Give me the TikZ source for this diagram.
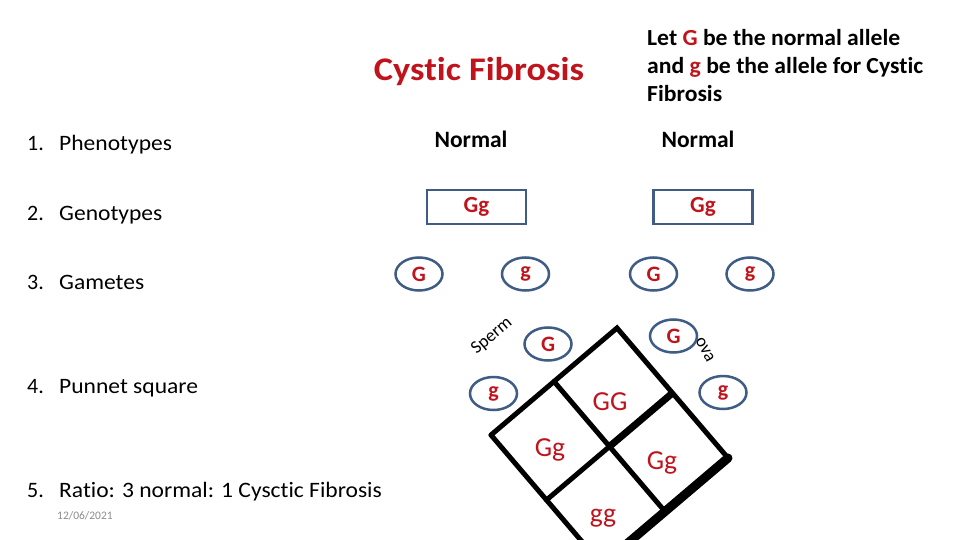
\documentclass[tikz,border=0pt]{standalone}
\usepackage{fontspec}
\setmainfont{Carlito}[Ligatures=NoCommon]
\usetikzlibrary{shapes.geometric,calc}
\definecolor{cfred}{HTML}{C0141C}
\definecolor{cfblue}{HTML}{3E5C84}
\definecolor{dategray}{HTML}{8C8C8C}
\begin{document}
\begin{tikzpicture}[x=1pt,y=-1pt,
  listtxt/.style={anchor=base west,font=\fontsize{22}{26}\selectfont,inner sep=0},
  gam/.style={ellipse,draw=cfblue,line width=2.5pt,minimum width=47,minimum height=33,inner sep=0,text=cfred,font=\fontsize{22}{24}\selectfont\bfseries},
  geno/.style={rectangle,draw=cfblue,line width=2.5pt,minimum width=99,minimum height=34,inner sep=0,text=cfred,font=\fontsize{23}{26}\selectfont\bfseries},
  cell/.style={text=cfred,font=\fontsize{27.5}{30}\selectfont,inner sep=0},
  sq/.style={line width=5pt,line cap=round}]
\useasboundingbox (0,0) rectangle (960,540);
\fill[white] (0,0) rectangle (960,540);
% title
\node[anchor=base,inner sep=0,text=cfred,font=\fontsize{33}{38}\selectfont\bfseries] (title) at (479,81) {\scalebox{1.1}[1]{Cystic Fibrosis}};
\node[anchor=base west,inner sep=0,font=\fontsize{23}{28}\selectfont\bfseries] (note1) at (647,46) {\scalebox{1.03}[1]{Let \textcolor{cfred}{G} be the normal allele}};
\node[anchor=base west,inner sep=0,font=\fontsize{23}{28}\selectfont\bfseries] (note2) at (647,74) {\scalebox{1.03}[1]{and \textcolor{cfred}{g} be the allele for Cystic}};
\node[anchor=base west,inner sep=0,font=\fontsize{23}{28}\selectfont\bfseries] (note3) at (647,102) {\scalebox{1.03}[1]{Fibrosis}};
% list
\node[listtxt] (l1n) at (27,151) {1.};
\node[listtxt] (l1) at (59,151) {\scalebox{1.07}[1]{Phenotypes}};
\node[listtxt] (l2n) at (27,220) {2.};
\node[listtxt] (l2) at (59,220) {\scalebox{1.07}[1]{Genotypes}};
\node[listtxt] (l3n) at (27,289) {3.};
\node[listtxt] (l3) at (59,289) {\scalebox{1.07}[1]{Gametes}};
\node[listtxt] (l4n) at (27,393) {4.};
\node[listtxt] (l4) at (59,393) {\scalebox{1.07}[1]{Punnet square}};
\node[listtxt] (l5n) at (27,497) {5.};
\node[listtxt] (l5) at (59,497) {\scalebox{1.07}[1]{Ratio: 3 normal: 1 Cysctic Fibrosis}};
\node[anchor=base west,inner sep=0,text=dategray,font=\fontsize{11.5}{13}\selectfont] (date) at (57,519) {12/06/2021};
% phenotypes
\node[anchor=base,inner sep=0,font=\fontsize{23.5}{26}\selectfont\bfseries] (n1) at (471,148) {Normal};
\node[anchor=base,inner sep=0,font=\fontsize{23.5}{26}\selectfont\bfseries] (n2) at (698,148) {Normal};
% genotypes
\node[geno] (g1) at (476.5,207) {Gg};
\node[geno] (g2) at (703,207) {Gg};
% gametes
\node[gam] (a1) at (419,274) {G};
\node[gam] (a2) at (525.5,274) {g};
\node[gam] (a3) at (653.5,274) {G};
\node[gam] (a4) at (750,274) {g};
% punnett labels
\node[font=\fontsize{18}{20}\selectfont,rotate=40,inner sep=0] (sperm) at (492,336) {Sperm};
\node[font=\fontsize{18}{20}\selectfont,rotate=-62,inner sep=0] (ova) at (705,350) {ova};
\node[gam] (s1) at (548,344) {G};
\node[gam] (s2) at (493.5,393.5) {g};
\node[gam] (o1) at (673.5,336) {G};
\node[gam] (o2) at (723,392.5) {g};
% square
\begin{scope}
\clip (0,0) rectangle (960,540);
\coordinate (T) at (617,328);
\coordinate (L) at (491,435);
\coordinate (R) at (728,458);
\coordinate (B) at (602,565);
\coordinate (C) at (609.5,446.5);
\draw[sq] (L) -- (T) -- (R);
\draw[sq] (L) -- (B);
\draw[line width=9pt,line cap=round] (R) -- (B);
\draw[sq] ($(L)!0.5!(T)$) -- ($(R)!0.5!(B)$);
\draw[sq] ($(L)!0.5!(B)$) -- (C);
\draw[line width=7pt] (C) -- ($(T)!0.5!(R)$);
\end{scope}
\node[cell] (c1) at (610,402) {GG};
\node[cell] (c2) at (550,450) {Gg};
\node[cell] (c3) at (662,463) {Gg};
\node[cell] (c4) at (603,518) {gg};
\end{tikzpicture}
\end{document}
